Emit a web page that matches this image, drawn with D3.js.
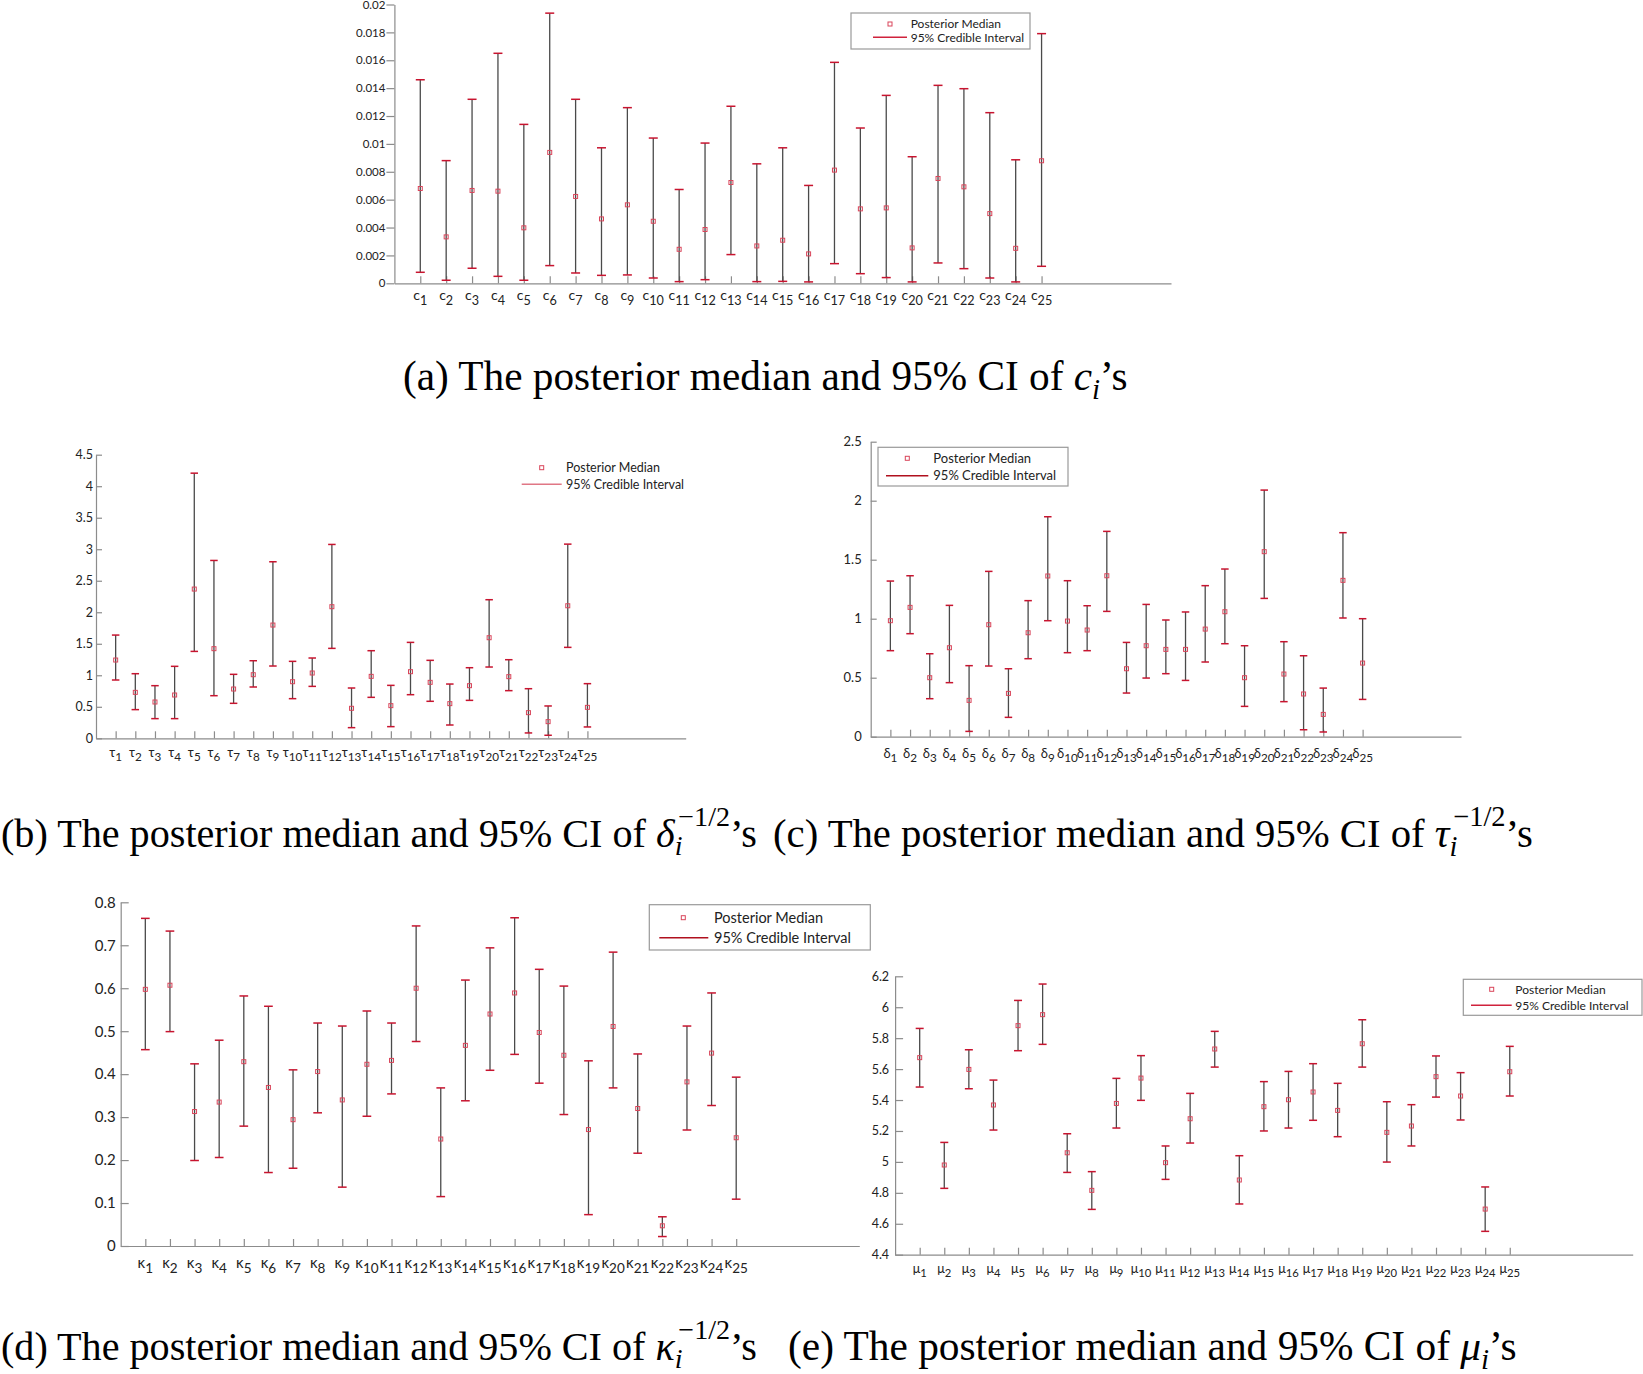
<!DOCTYPE html>
<meta charset="utf-8">
<script src="https://d3js.org/d3.v7.min.js"></script>
<style>
  body { margin: 0; background: #fff; }
  svg text { font-family: Lato, "Open Sans", sans-serif; fill: #222; }
  svg text.cap { font-family: "Liberation Serif", serif; fill: #000; }
</style>
<body>
<div id="fig"></div>
<script>
// index of each parameter (x positions 1..25)
var ids = [1,2,3,4,5,6,7,8,9,10,11,12,13,14,15,16,17,18,19,20,21,22,23,24,25];

// (a) c_i
var cHi  = [.0146,.0088,.0132,.0165,.0114,.01938,.0132,.00972,.0126,.01042,.00673,.01006,.0127,.00857,.00972,.00702,.01585,.01114,.01348,.00908,.0142,.01396,.01224,.00886,.01791];
var cMed = [.0068,.00333,.00666,.00661,.00398,.00939,.00623,.00462,.00563,.00445,.00244,.00386,.00723,.00268,.00309,.00211,.00812,.00534,.00541,.00254,.00752,.00692,.005,.00251,.00879];
var cLo  = [.00079,.00022,.00108,.0005,.00022,.00127,.00074,.00057,.0006,.00038,.00012,.00026,.00206,.00012,.00014,.0001,.00141,.00069,.00041,.0001,.00146,.00105,.00038,.0001,.00122];
var cTicks = [0,.002,.004,.006,.008,.01,.012,.014,.016,.018,.02];
var cTickLabels = ["0","0.002","0.004","0.006","0.008","0.01","0.012","0.014","0.016","0.018","0.02"];

// (b) tau_i
var tauHi  = [1.638,1.025,0.835,1.142,4.207,2.822,1.015,1.231,2.801,1.221,1.274,3.076,0.798,1.39,0.84,1.522,1.237,0.861,1.12,2.199,1.247,0.787,0.513,3.081,0.867];
var tauMed = [1.242,0.729,0.576,0.687,2.368,1.422,0.782,1.009,1.797,0.898,1.036,2.088,0.476,0.983,0.518,1.057,0.888,0.55,0.835,1.596,0.978,0.407,0.264,2.103,0.491];
var tauLo  = [0.925,0.455,0.312,0.312,1.379,0.676,0.555,0.814,1.147,0.629,0.824,1.427,0.169,0.65,0.185,0.692,0.587,0.211,0.602,1.131,0.756,0.085,0.048,1.443,0.18];
var tauTicks = [0,0.5,1,1.5,2,2.5,3,3.5,4,4.5];
var tauTickLabels = ["0","0.5","1","1.5","2","2.5","3","3.5","4","4.5"];

// (c) delta_i
var delHi  = [1.319,1.364,0.703,1.113,0.602,1.401,0.576,1.153,1.864,1.322,1.11,1.74,0.799,1.121,0.989,1.057,1.28,1.421,0.771,2.09,0.805,0.686,0.412,1.729,1.0];
var delMed = [0.983,1.096,0.5,0.754,0.308,0.949,0.367,0.881,1.362,0.98,0.904,1.364,0.576,0.771,0.74,0.74,0.912,1.059,0.5,1.568,0.531,0.362,0.189,1.325,0.624];
var delLo  = [0.729,0.873,0.322,0.458,0.045,0.599,0.164,0.661,0.983,0.712,0.729,1.062,0.37,0.497,0.534,0.477,0.633,0.788,0.257,1.172,0.297,0.059,0.04,1.006,0.316];
var delTicks = [0,0.5,1,1.5,2,2.5];
var delTickLabels = ["0","0.5","1","1.5","2","2.5"];

// (d) kappa_i
var kapHi  = [.7626,.733,.424,.479,.582,.558,.41,.519,.512,.547,.519,.745,.368,.619,.694,.764,.644,.605,.431,.684,.447,.068,.512,.589,.393];
var kapMed = [.5974,.607,.313,.335,.429,.369,.294,.406,.34,.423,.432,.6,.249,.467,.54,.589,.497,.444,.271,.511,.32,.047,.382,.449,.252];
var kapLo  = [.457,.499,.199,.206,.279,.171,.181,.31,.137,.302,.354,.476,.115,.338,.409,.446,.379,.306,.073,.368,.216,.022,.27,.327,.109];
var kapTicks = [0,.1,.2,.3,.4,.5,.6,.7,.8];
var kapTickLabels = ["0","0.1","0.2","0.3","0.4","0.5","0.6","0.7","0.8"];

// (e) mu_i
var muHi  = [5.863,5.126,5.725,5.529,6.044,6.15,5.182,4.937,5.54,5.687,5.103,5.443,5.844,5.04,5.519,5.585,5.635,5.508,5.919,5.389,5.37,5.685,5.577,4.838,5.747];
var muMed = [5.674,4.98,5.598,5.368,5.881,5.952,5.059,4.816,5.378,5.542,4.995,5.279,5.73,4.883,5.357,5.402,5.452,5.333,5.764,5.191,5.232,5.551,5.426,4.695,5.583];
var muLo  = [5.484,4.829,5.473,5.206,5.719,5.76,4.932,4.693,5.219,5.398,4.887,5.122,5.613,4.728,5.2,5.219,5.269,5.163,5.613,4.999,5.103,5.419,5.271,4.551,5.426];
var muTicks = [4.4,4.6,4.8,5,5.2,5.4,5.6,5.8,6,6.2];
var muTickLabels = ["4.4","4.6","4.8","5","5.2","5.4","5.6","5.8","6","6.2"];

var legendLabels = ["Posterior Median", "95% Credible Interval"];

var W = 1643, H = 1374;
var svg = d3.select("#fig").append("svg")
  .attr("width", W).attr("height", H)
  .style("background", "#fff");

var panels = [
  {sym: "c", hi: cHi, med: cMed, lo: cLo, ydom: [0, 0.02], ticks: cTicks, tickLabels: cTickLabels,
   left: 394.4, right: 1171, bottom: 283.3, top: 4.5,
   yIn: false, ytick: 8, ypad: 1, yfs: 11.5, xfs: 14, xlabOff: 17, capW: 9,
   legend: {box: [851, 13, 1030, 49], mx: 890, my: 24, lx0: 873, lx1: 907, ly: 37.3, tx: 910.7, fs: 12, col: "#d0223c"}},
  {sym: "τ", hi: tauHi, med: tauMed, lo: tauLo, ydom: [0, 4.5], ticks: tauTicks, tickLabels: tauTickLabels,
   left: 96, right: 685.7, bottom: 738.3, top: 454.7,
   yIn: true, ytick: 6, ypad: 3, yfs: 12.5, xfs: 13, xlabOff: 19, capW: 7.5,
   legend: {box: null, mx: 541.7, my: 467.7, lx0: 521.7, lx1: 561.7, ly: 484.3, tx: 566, fs: 12.5, col: "#e07785"}},
  {sym: "δ", hi: delHi, med: delMed, lo: delLo, ydom: [0, 2.5], ticks: delTicks, tickLabels: delTickLabels,
   left: 870.7, right: 1461, bottom: 736.7, top: 441.7,
   yIn: true, ytick: 6, ypad: 9, yfs: 13, xfs: 13, xlabOff: 21, capW: 7.5,
   legend: {box: [878, 447.3, 1068, 486], mx: 907.3, my: 458.3, lx0: 886, lx1: 928.3, ly: 475.7, tx: 933.3, fs: 13, col: "#b0101e"}},
  {sym: "κ", hi: kapHi, med: kapMed, lo: kapLo, ydom: [0, 0.8], ticks: kapTicks, tickLabels: kapTickLabels,
   left: 120.7, right: 859.3, bottom: 1246, top: 902.3,
   yIn: true, ytick: 8, ypad: 5, yfs: 15, xfs: 15, xlabOff: 22, capW: 8.7,
   legend: {box: [649.3, 904.7, 870.3, 950], mx: 683.3, my: 917.7, lx0: 659.3, lx1: 708.3, ly: 937.7, tx: 714, fs: 14.5, col: "#b0101e"}},
  {sym: "μ", hi: muHi, med: muMed, lo: muLo, ydom: [4.4, 6.2], ticks: muTicks, tickLabels: muTickLabels,
   left: 895.1, right: 1632.7, bottom: 1254.7, top: 976.3,
   yIn: true, ytick: 8, ypad: 6, yfs: 12.5, xfs: 12.5, xlabOff: 18, capW: 8,
   legend: {box: [1463.3, 979.3, 1642, 1015.3], mx: 1491.7, my: 989.3, lx0: 1471, lx1: 1511.7, ly: 1005.3, tx: 1515.3, fs: 12, col: "#d0223c"}}
];

panels.forEach(drawPanel);

function drawPanel(p) {
  var x = d3.scaleLinear().domain([0, 30]).range([p.left, p.right]);
  var y = d3.scaleLinear().domain(p.ydom).range([p.bottom, p.top]);
  var g = svg.append("g");

  // y axis
  var yAxis = d3.axisLeft(y).tickValues(p.ticks)
    .tickFormat(function(d, i) { return p.tickLabels[i]; })
    .tickSizeInner(p.yIn ? -p.ytick : p.ytick).tickSizeOuter(0).tickPadding(p.ypad);
  var ya = g.append("g").attr("transform", "translate(" + p.left + ",0)").call(yAxis);
  ya.attr("font-family", null).attr("font-size", p.yfs);

  // x axis (ticks pointing up, labels drawn separately)
  var xAxis = d3.axisBottom(x).tickValues(ids).tickFormat("")
    .tickSizeInner(-7).tickSizeOuter(0);
  g.append("g").attr("transform", "translate(0," + p.bottom + ")").call(xAxis);

  g.selectAll(".domain, .tick line").attr("stroke", "#8c8c8c").attr("stroke-width", 1.2);
  ya.selectAll("text").attr("fill", "#222");

  // x tick labels: symbol with subscript index
  var lab = g.append("g").selectAll("text").data(ids).join("text")
    .attr("x", function(d) { return x(d); })
    .attr("y", p.bottom + p.xlabOff)
    .attr("text-anchor", "middle")
    .attr("font-size", p.xfs);
  lab.append("tspan").text(p.sym);
  lab.append("tspan").attr("font-size", p.xfs * 0.9).attr("dy", p.xfs * 0.32)
    .text(function(d) { return d; });

  // error bars
  var eb = g.append("g").selectAll("g").data(ids).join("g");
  eb.append("line")
    .attr("x1", function(d) { return x(d); }).attr("x2", function(d) { return x(d); })
    .attr("y1", function(d, i) { return y(p.lo[i]); })
    .attr("y2", function(d, i) { return y(p.hi[i]); })
    .attr("stroke", "#4a4a4a").attr("stroke-width", 1.3);
  ["lo", "hi"].forEach(function(k) {
    eb.append("line")
      .attr("x1", function(d) { return x(d) - p.capW / 2; })
      .attr("x2", function(d) { return x(d) + p.capW / 2; })
      .attr("y1", function(d, i) { return y(p[k][i]); })
      .attr("y2", function(d, i) { return y(p[k][i]); })
      .attr("stroke", "#c8142f").attr("stroke-width", 1.5);
  });
  eb.append("rect")
    .attr("x", function(d) { return x(d) - 2; })
    .attr("y", function(d, i) { return y(p.med[i]) - 2; })
    .attr("width", 4).attr("height", 4)
    .attr("fill", "none").attr("stroke", "#d9455a").attr("stroke-width", 1);

  drawLegend(p.legend);
}

function drawLegend(L) {
  var g = svg.append("g");
  if (L.box) {
    g.append("rect").attr("x", L.box[0]).attr("y", L.box[1])
      .attr("width", L.box[2] - L.box[0]).attr("height", L.box[3] - L.box[1])
      .attr("fill", "#fff").attr("stroke", "#9a9a9a").attr("stroke-width", 1.2);
  }
  g.append("rect").attr("x", L.mx - 2).attr("y", L.my - 2).attr("width", 4).attr("height", 4)
    .attr("fill", "none").attr("stroke", "#d9455a").attr("stroke-width", 1);
  g.append("line").attr("x1", L.lx0).attr("x2", L.lx1).attr("y1", L.ly).attr("y2", L.ly)
    .attr("stroke", L.col).attr("stroke-width", 1.4);
  g.selectAll("text.lg").data(legendLabels).join("text").attr("class", "lg")
    .attr("x", L.tx)
    .attr("y", function(d, i) { return i ? L.ly : L.my; })
    .attr("dy", "0.36em")
    .attr("font-size", L.fs)
    .text(function(d) { return d; });
}

// captions (serif, with math symbols)
var head = "The posterior median and 95% CI of ";
caption([{s: "(a) " + head}, {s: "c", it: 1}, {s: "i", it: 1, fs: "70%", dy: "0.3em"}, {s: "’s", dy: "-0.21em"}], 403, 390, 725);
caption(powParts("(b) ", "δ"), 1, 847, 756);
caption(powParts("(c) ", "τ"), 773, 847, 760);
caption(powParts("(d) ", "κ"), 1, 1360, 756);
caption([{s: "(e) " + head}, {s: "μ", it: 1}, {s: "i", it: 1, fs: "70%", dy: "0.3em"}, {s: "’s", dy: "-0.21em"}], 788, 1360, 729);

function powParts(tag, sym) {
  return [{s: tag + head}, {s: sym, it: 1},
          {s: "i", it: 1, fs: "70%", dy: "0.3em"},
          {s: "−1/2", fs: "70%", dx: "-0.15em", dy: "-1.05em"},
          {s: "’s", dy: "0.525em"}];
}

function caption(parts, x, yb, width) {
  var base = 34;
  var t = svg.append("text").attr("class", "cap").attr("x", x).attr("y", yb).attr("font-size", base);
  parts.forEach(function(q) {
    var s = t.append("tspan").text(q.s);
    if (q.it) s.attr("font-style", "italic");
    if (q.fs) s.attr("font-size", q.fs);
    if (q.dx) s.attr("dx", q.dx);
    if (q.dy) s.attr("dy", q.dy);
  });
  var w = t.node().getBBox().width;
  t.attr("font-size", base * width / w);
}
</script>
</body>
